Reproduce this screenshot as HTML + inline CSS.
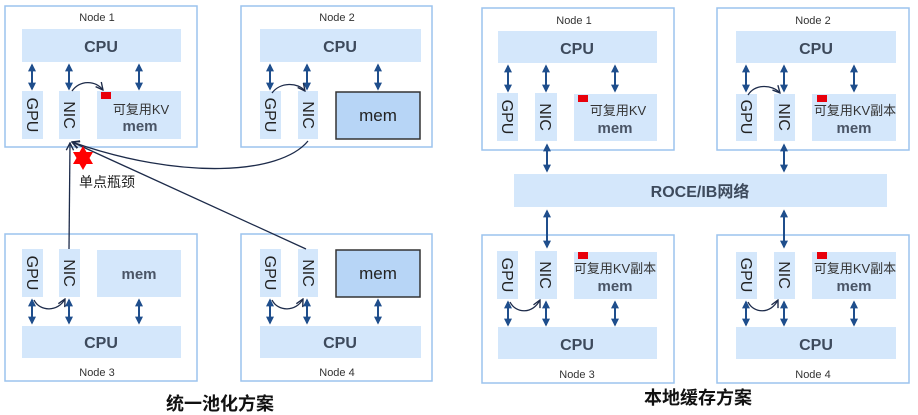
<!DOCTYPE html>
<html><head><meta charset="utf-8"><style>
html,body{margin:0;padding:0;background:#fff;width:918px;height:415px;overflow:hidden}
svg{display:block}
text{font-family:"Liberation Sans","Noto Sans CJK SC",sans-serif}
.nb{fill:#fff;stroke:#9cc3ee;stroke-width:1.5}
.lb{fill:#d4e7fb}
.dm{fill:#b7d5f6;stroke:#333;stroke-width:1.5}
.cpu{font-size:16px;font-weight:bold;fill:#3d4a5c;text-anchor:middle}
.nl{font-size:11px;fill:#333;text-anchor:middle}
.vt{font-size:16px;fill:#222;text-anchor:middle}
.mm{font-size:15px;font-weight:bold;fill:#4a5566;text-anchor:middle}
.kv{font-size:13px;fill:#333;text-anchor:middle}
.ar{stroke:#1f4e8c;stroke-width:2;fill:none;marker-start:url(#a);marker-end:url(#a)}
.sa{stroke:#1f4e8c;stroke-width:2;fill:none;marker-end:url(#a)}
.cv{stroke:#1d2b4a;stroke-width:1.3;fill:none;marker-end:url(#b)}
</style></head><body>
<svg width="918" height="415" viewBox="0 0 918 415">
<defs>
<marker id="a" viewBox="0 0 10 10" refX="8" refY="5" markerWidth="4" markerHeight="4" orient="auto-start-reverse"><path d="M0,0L10,5L0,10z" fill="#1f4e8c"/></marker>
<marker id="b" viewBox="0 0 10 10" refX="9" refY="5" markerWidth="7" markerHeight="7" orient="auto"><path d="M1,1L9,5L1,9" fill="none" stroke="#1d2b4a" stroke-width="1.5"/></marker>
</defs>

<!-- LEFT: Node1 -->
<rect class="nb" x="5" y="6" width="192" height="141"/>
<text class="nl" x="97" y="21">Node 1</text>
<rect class="lb" x="22" y="29" width="159" height="33"/><text class="cpu" x="101" y="52">CPU</text>
<rect class="lb" x="22" y="91" width="21" height="48"/><text class="vt" transform="translate(27,115) rotate(90)">GPU</text>
<rect class="lb" x="59" y="91" width="21" height="48"/><text class="vt" transform="translate(64,115) rotate(90)">NIC</text>
<rect class="lb" x="97" y="91" width="84" height="48"/>
<rect x="101" y="92" width="10" height="7" fill="#e8000b"/>
<text class="kv" x="141" y="114">可复用KV</text><text class="mm" x="140" y="131">mem</text>
<line class="ar" x1="32" y1="65" x2="32" y2="89"/><line class="ar" x1="69" y1="65" x2="69" y2="89"/><line class="ar" x1="139" y1="65" x2="139" y2="89"/>
<path class="cv" d="M72,91 C80,80 95,80 103,90"/>

<!-- LEFT: Node2 -->
<rect class="nb" x="241" y="6" width="191" height="141"/>
<text class="nl" x="337" y="21">Node 2</text>
<rect class="lb" x="260" y="29" width="161" height="33"/><text class="cpu" x="340" y="52">CPU</text>
<rect class="lb" x="260" y="91" width="21" height="48"/><text class="vt" transform="translate(265,115) rotate(90)">GPU</text>
<rect class="lb" x="298" y="91" width="20" height="48"/><text class="vt" transform="translate(303,115) rotate(90)">NIC</text>
<rect class="dm" x="336" y="92" width="84" height="47"/><text x="378" y="121" font-size="17" fill="#222" text-anchor="middle">mem</text>
<line class="ar" x1="270" y1="65" x2="270" y2="89"/><line class="ar" x1="307" y1="65" x2="307" y2="89"/><line class="ar" x1="378" y1="65" x2="378" y2="89"/>
<path class="cv" d="M272,93 C280,82 298,82 305,91"/>

<!-- LEFT: Node3 -->
<rect class="nb" x="5" y="234" width="192" height="147"/>
<rect class="lb" x="22" y="249" width="21" height="48"/><text class="vt" transform="translate(27,273) rotate(90)">GPU</text>
<rect class="lb" x="59" y="249" width="21" height="48"/><text class="vt" transform="translate(64,273) rotate(90)">NIC</text>
<rect class="lb" x="97" y="250" width="84" height="47"/><text class="mm" x="139" y="279">mem</text>
<rect class="lb" x="22" y="326" width="159" height="32"/><text class="cpu" x="101" y="348">CPU</text>
<text class="nl" x="97" y="376">Node 3</text>
<line class="ar" x1="32" y1="300" x2="32" y2="323"/><line class="ar" x1="69" y1="300" x2="69" y2="323"/><line class="ar" x1="139" y1="300" x2="139" y2="323"/>
<path class="cv" d="M34,300 C40,312 58,312 65,299"/>

<!-- LEFT: Node4 -->
<rect class="nb" x="241" y="234" width="191" height="147"/>
<rect class="lb" x="260" y="249" width="21" height="48"/><text class="vt" transform="translate(265,273) rotate(90)">GPU</text>
<rect class="lb" x="298" y="249" width="20" height="48"/><text class="vt" transform="translate(303,273) rotate(90)">NIC</text>
<rect class="dm" x="336" y="250" width="84" height="47"/><text x="378" y="279" font-size="17" fill="#222" text-anchor="middle">mem</text>
<rect class="lb" x="260" y="326" width="161" height="32"/><text class="cpu" x="340" y="348">CPU</text>
<text class="nl" x="337" y="376">Node 4</text>
<line class="ar" x1="270" y1="300" x2="270" y2="323"/><line class="ar" x1="307" y1="300" x2="307" y2="323"/><line class="ar" x1="378" y1="300" x2="378" y2="323"/>
<path class="cv" d="M272,300 C278,312 296,312 303,299"/>

<!-- pooling connectors -->
<line class="cv" x1="69" y1="249" x2="70" y2="143"/>
<line class="cv" x1="306" y1="249" x2="72" y2="142"/>
<path class="cv" d="M308,141 C280,175 180,180 72,142"/>
<polygon points="83,146 86.5,152 93,152 89.5,158 93,164 86.5,164 83,170 79.5,164 73,164 76.5,158 73,152 79.5,152" fill="#f00"/>
<text x="79" y="187" font-size="14" fill="#222">单点瓶颈</text>
<text x="220" y="410" font-size="18" font-weight="bold" fill="#111" text-anchor="middle">统一池化方案</text>

<!-- RIGHT: Node1 -->
<rect class="nb" x="482" y="8" width="192" height="142"/>
<text class="nl" x="574" y="24">Node 1</text>
<rect class="lb" x="498" y="31" width="159" height="32"/><text class="cpu" x="577" y="54">CPU</text>
<rect class="lb" x="497" y="93" width="21" height="48"/><text class="vt" transform="translate(502,117) rotate(90)">GPU</text>
<rect class="lb" x="535" y="93" width="22" height="48"/><text class="vt" transform="translate(540,117) rotate(90)">NIC</text>
<rect class="lb" x="574" y="94" width="83" height="47"/>
<rect x="578" y="95" width="10" height="7" fill="#e8000b"/>
<text class="kv" x="618" y="115">可复用KV</text><text class="mm" x="615" y="133">mem</text>
<line class="ar" x1="508" y1="66" x2="508" y2="91"/><line class="ar" x1="546" y1="66" x2="546" y2="91"/><line class="ar" x1="615" y1="66" x2="615" y2="91"/>

<!-- RIGHT: Node2 -->
<rect class="nb" x="717" y="8" width="192" height="142"/>
<text class="nl" x="813" y="24">Node 2</text>
<rect class="lb" x="736" y="31" width="160" height="32"/><text class="cpu" x="816" y="54">CPU</text>
<rect class="lb" x="736" y="94" width="21" height="47"/><text class="vt" transform="translate(741,117) rotate(90)">GPU</text>
<rect class="lb" x="774" y="94" width="21" height="47"/><text class="vt" transform="translate(779,117) rotate(90)">NIC</text>
<rect class="lb" x="812" y="94" width="84" height="47"/>
<rect x="817" y="95" width="10" height="7" fill="#e8000b"/>
<text class="kv" x="855" y="115">可复用KV副本</text><text class="mm" x="854" y="133">mem</text>
<line class="ar" x1="746" y1="66" x2="746" y2="91"/><line class="ar" x1="784" y1="66" x2="784" y2="91"/><line class="ar" x1="854" y1="66" x2="854" y2="91"/>
<path class="cv" d="M748,95 C755,84 772,84 780,93"/>

<!-- ROCE -->
<rect class="lb" x="514" y="174" width="373" height="33"/>
<text x="700" y="197" font-size="16" font-weight="bold" fill="#3d4a5c" text-anchor="middle">ROCE/IB网络</text>
<line class="ar" x1="547" y1="145" x2="547" y2="171"/><line class="ar" x1="784" y1="145" x2="784" y2="171"/>

<!-- RIGHT: Node3 -->
<rect class="nb" x="482" y="235" width="192" height="148"/>
<rect class="lb" x="497" y="251" width="21" height="48"/><text class="vt" transform="translate(502,275) rotate(90)">GPU</text>
<rect class="lb" x="535" y="251" width="22" height="48"/><text class="vt" transform="translate(540,275) rotate(90)">NIC</text>
<rect class="lb" x="574" y="252" width="83" height="47"/>
<rect x="578" y="252" width="10" height="7" fill="#e8000b"/>
<text class="kv" x="615" y="273">可复用KV副本</text><text class="mm" x="615" y="291">mem</text>
<rect class="lb" x="498" y="327" width="159" height="32"/><text class="cpu" x="577" y="350">CPU</text>
<text class="nl" x="577" y="378">Node 3</text>
<line class="ar" x1="508" y1="302" x2="508" y2="325"/><line class="ar" x1="546" y1="302" x2="546" y2="325"/><line class="ar" x1="615" y1="302" x2="615" y2="325"/>
<path class="cv" d="M510,302 C516,314 533,314 540,300"/>

<!-- RIGHT: Node4 -->
<rect class="nb" x="717" y="235" width="192" height="148"/>
<rect class="lb" x="736" y="252" width="21" height="47"/><text class="vt" transform="translate(741,275) rotate(90)">GPU</text>
<rect class="lb" x="774" y="252" width="21" height="47"/><text class="vt" transform="translate(779,275) rotate(90)">NIC</text>
<rect class="lb" x="812" y="252" width="84" height="47"/>
<rect x="817" y="252" width="10" height="7" fill="#e8000b"/>
<text class="kv" x="855" y="273">可复用KV副本</text><text class="mm" x="854" y="291">mem</text>
<rect class="lb" x="736" y="327" width="160" height="32"/><text class="cpu" x="816" y="350">CPU</text>
<text class="nl" x="813" y="378">Node 4</text>
<line class="ar" x1="746" y1="302" x2="746" y2="325"/><line class="ar" x1="784" y1="302" x2="784" y2="325"/><line class="ar" x1="854" y1="302" x2="854" y2="325"/>
<path class="cv" d="M748,302 C754,314 771,314 778,300"/>

<!-- ROCE down arrows (drawn last) -->
<line class="ar" x1="547" y1="211" x2="547" y2="247"/><line class="ar" x1="784" y1="211" x2="784" y2="247"/>

<text x="698" y="404" font-size="18" font-weight="bold" fill="#111" text-anchor="middle">本地缓存方案</text>
</svg>
</body></html>
